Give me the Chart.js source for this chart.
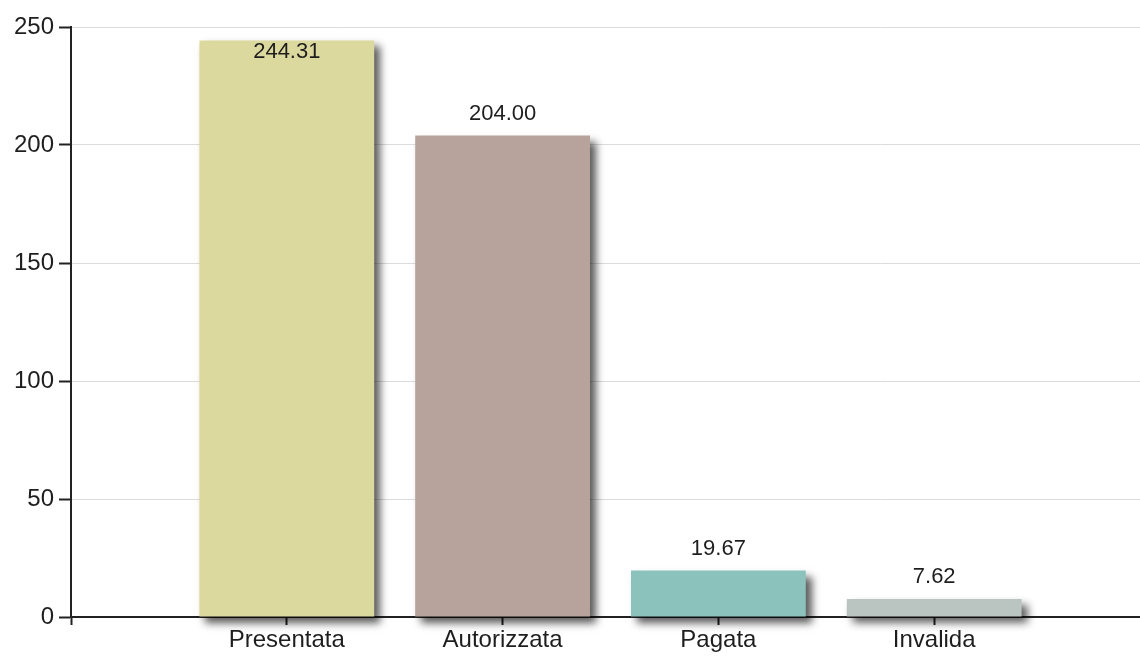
<!DOCTYPE html>
<html>
<head>
<meta charset="utf-8">
<script src="https://cdn.jsdelivr.net/npm/chart.js@4/dist/chart.umd.min.js"></script>
<style>
  html, body { margin: 0; padding: 0; background: #fff; overflow: hidden; }
  #wrap { width: 1151px; height: 657px; }
</style>
</head>
<body>
<div id="wrap"><canvas id="chart"></canvas></div>
<script>
"use strict";

// data
const categories = ['Presentata', 'Autorizzata', 'Pagata', 'Invalida'];
const values = [244.31, 204.00, 19.67, 7.62];
const bar_colors = ['rgb(220, 217, 158)', 'rgb(184, 163, 156)', 'rgb(139, 194, 187)', 'rgb(186, 196, 192)'];
const y_ticks = [0, 50, 100, 150, 200, 250];

// blank slot on each side, like the original layout
const labels = [''].concat(categories, ['']);
const data = [null].concat(values, [null]);
const colors = ['#fff'].concat(bar_colors, ['#fff']);

const family = "'Liberation Sans', Arial, sans-serif";
const axis_font = { family: family, size: 24 };
const value_font_size = 22;
const text_color = '#1e1e1e';

const shadow_plugin = {
  id: 'barShadow',
  beforeDatasetsDraw: function(chart) {
    const ctx = chart.ctx;
    ctx.save();
    ctx.shadowColor = 'rgba(0, 0, 0, 0.65)';
    ctx.shadowBlur = 8;
    ctx.shadowOffsetX = 6;
    ctx.shadowOffsetY = 6;
  },
  afterDatasetsDraw: function(chart) {
    chart.ctx.restore();
  }
};

const value_labels = {
  id: 'valueLabels',
  afterDatasetsDraw: function(chart) {
    const ctx = chart.ctx;
    const meta = chart.getDatasetMeta(0);
    ctx.save();
    ctx.font = value_font_size + 'px ' + family;
    ctx.fillStyle = text_color;
    ctx.textAlign = 'center';
    meta.data.forEach(function(bar, i) {
      const v = data[i];
      if (v === null) return;
      let y = bar.y - 11;
      if (y - 20 < chart.chartArea.top) {
        ctx.textBaseline = 'top';
        y = bar.y + 1;
      } else {
        ctx.textBaseline = 'bottom';
      }
      ctx.fillText(v.toFixed(2), bar.x, y);
    });
    ctx.restore();
  }
};

new Chart('chart', {
  type: 'bar',
  data: {
    labels: labels,
    datasets: [{
      data: data,
      backgroundColor: colors,
      borderWidth: 0,
      barPercentage: 0.81,
      categoryPercentage: 1,
      clip: false
    }]
  },
  options: {
    responsive: true,
    maintainAspectRatio: false,
    animation: false,
    events: [],
    layout: { padding: { top: 27, right: 0, left: 0, bottom: 0 } },
    plugins: {
      legend: { display: false },
      tooltip: { enabled: false }
    },
    scales: {
      x: {
        offset: false,
        grid: { offset: false, drawOnChartArea: false, drawTicks: true, tickLength: 8, tickColor: '#222', tickWidth: 2 },
        border: { color: '#222', width: 2 },
        ticks: { font: axis_font, color: text_color, padding: 1, autoSkip: false, maxRotation: 0 },
        afterFit: function(scale) { scale.height = 40; }
      },
      y: {
        min: 0,
        max: 250,
        afterBuildTicks: function(scale) { scale.ticks = y_ticks.map(function(v) { return { value: v }; }); },
        grid: { color: '#dcdcdc', lineWidth: 1, tickLength: 12, tickColor: '#222', tickWidth: 2 },
        border: { color: '#222', width: 2 },
        ticks: { font: axis_font, color: text_color, padding: 5 },
        afterFit: function(scale) { scale.width = 71; }
      }
    }
  },
  plugins: [shadow_plugin, value_labels]
});
</script>
</body>
</html>
